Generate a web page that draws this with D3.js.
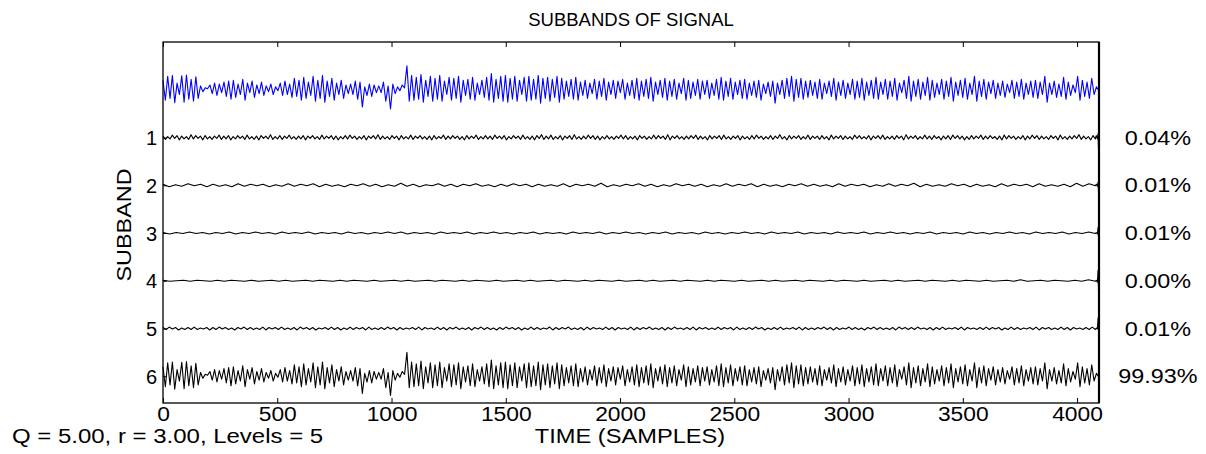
<!DOCTYPE html>
<html><head><meta charset="utf-8">
<script src="https://cdn.jsdelivr.net/npm/d3@7"></script>
<style>
html,body{margin:0;padding:0;background:#fff;}
svg text{font-family:Arial,"Liberation Sans",sans-serif;fill:#000;}
</style></head>
<body><svg id="c" width="1206" height="454"></svg>
<script>
// ---------- data (values in hundredths of one subband spacing) ----------
const title = "SUBBANDS OF SIGNAL";
const xLabel = "TIME (SAMPLES)";
const yLabel = "SUBBAND";
const paramText = "Q = 5.00, r = 3.00, Levels = 5";
const nSamples = 4096;
const xTicks = [0, 500, 1000, 1500, 2000, 2500, 3000, 3500, 4000];
const bandLabels = ["1", "2", "3", "4", "5", "6"];
const energyPct = ["0.04%", "0.01%", "0.01%", "0.00%", "0.01%", "99.93%"];

const signal = [
20,-22,28,-18,30,-27,14,-10,29,-26,31,-20,22,-24,27,-18,
8,-4,4,2,10,-8,14,-12,12,-6,16,-14,
18,-20,20,-16,12,-10,22,-22,14,-6,18,-16,
10,-8,16,-12,8,-4,12,-10,6,-2,14,-12,
18,-10,12,-16,24,-14,20,-22,26,-18,16,-12,
28,-24,20,-18,30,-26,18,-14,24,-22,
14,-10,20,-18,10,-8,12,-10,18,-20,16,-36,
6,-12,12,-14,10,-6,8,-6,16,-24,8,-40,12,-8,
6,-2,10,4,
50,-24,30,-22,26,-20,32,-26,20,-14,28,-24,24,-20,30,-24,18,-10,26,-22,24,-18,28,-26,20,-12,22,-20,26,-22,14,-10,
20,-16,26,-22,34,-26,22,-18,28,-24,30,-26,24,-20,28,-24,20,-10,26,-24,28,-22,22,-20,30,-28,24,-18,26,-24,22,-16,28,-26,
24,-20,18,-14,22,-20,26,-22,16,-12,20,-18,14,-8,22,-20,18,-14,24,-22,16,-10,20,-18,18,-6,22,-20,14,-12,20,-18,24,-22,
18,-14,22,-18,26,-24,16,-10,20,-16,24,-22,18,-14,22,-20,14,-8,24,-22,20,-18,16,-12,22,-20,18,-10,20,-18,14,-12,22,-20,
26,-22,18,-14,24,-20,16,-10,20,-18,22,-20,14,-12,18,-16,20,-22,12,-8,16,-14,18,-28,14,-10,20,-18,24,-14,28,-24,22,-16,
24,-20,18,-16,20,-12,16,-18,22,-20,14,-8,18,-14,24,-22,16,-12,20,-18,14,-10,22,-20,18,-16,24,-22,16,-12,20,-18,26,-20,
16,-10,22,-20,18,-14,24,-22,14,-6,20,-18,28,-24,18,-14,22,-20,16,-12,26,-22,20,-16,14,-10,22,-20,18,-14,26,-24,16,-12,
20,-16,24,-20,14,-10,28,-24,18,-14,22,-20,16,-8,20,-18,14,-12,18,-16,12,-6,20,-18,16,-14,22,-20,14,-10,18,-16,20,-18,
16,-10,28,-26,14,-10,18,-16,12,-14,26,-20,16,-12,10,-6,28,-22,20,-14,16,-18,24,-10,6,-2
];

const sub1 = [
3,-4,2,-3,5,-2,4,-5,3,-3,2,-4,6,-3,4,-2,3,-5,4,-3,
2,-4,3,-2,5,-4,3,-3,4,-5,2,-3,4,-2,3,-4,5,-3,2,-4,
3,-5,4,-2,3,-3,6,-4,2,-3,4,-4,3,-2,5,-3,2,-4,3,-3,
4,-5,3,-2,4,-3,2,-4,5,-3,3,-2,4,-4,3,-5,2,-3,4,-3,
5,-2,3,-4,2,-3,4,-5,3,-2,4,-3,6,-4,3,-3,2,-4,4,-2,
3,-5,4,-3,2,-3,5,-4,3,-2,4,-3,2,-4,3,-5,4,-3,2,-2,
5,-4,3,-3,4,-2,3,-4,2,-5,4,-3,3,-2,5,-4,2,-3,4,-3,
3,-4,5,-2,3,-3,4,-5,2,-3,4,-2,3,-4,5,-3,2,-4,3,-5,
4,-2,6,-4,3,-3,5,-4,2,-3,4,-5,3,-2,4,-4,6,-3,2,-4,
3,-3,5,-2,4,-4,3,-5,2,-3,4,-3,2,-4,3,-2,5,-3,4,-4,
2,-3,3,-5,4,-2,3,-4,2,-3,5,-3,4,-2,3,-4,6,-5,3,-2,
4,-3,2,-4,3,-3,4,-2,5,-4,3,-3,2,-5,4,-3,3,-2,4,-4,
5,-3,2,-4,3,-2,4,-5,3,-3,2,-4,4,-3,5,-2,3,-4,2,-3,
4,-4,3,-2,6,-3,2,-5,4,-3,3,-2,4,-4,2,-3,5,-4,3,-2,
3,-4,4,-3,2,-5,5,-3,3,-2,4,-4,3,-3,2,-4,5,-2,4,-3,
2,-3,4,-5,3,-2,4,-3,5,-4,2,-3,3,-4,4,-2,3,-5,6,-3,
3,-2,4,-4,2,-3,5,-3,3,-4,4,-2,2,-5,3,-3,4,-4,5,-2,
4,-3,3,-5,2,-4,4,-3,3,-2,5,-4,3,-3,4,-2,2,-4,3,-5,
5,-3,4,-2,3,-4,2,-3,4,-5,3,-3,5,-2,4,-4,3,-3,2,-4,
4,-2,3,-5,5,-3,2,-4,3,-3,4,-2,6,-4,3,-3,2,-5,4,-3
];
const sub2 = [2,-3,1,-2,3,-1,2,-3,2,-2,1,-3,3,-2,2,-1,2,-3,1,-2,3,-2,2,-1,3,-3,2,-2,1,-3,2,-1,3,-2,2,-3,1,-2,4,-2,2,-3,1,-1,3,-2,2,-3,2,-1,3,-2,1,-3,2,-2,3,-1,2,-3,2,-2,1,-2,3,-3,2,-1,2,-2,4,-3,1,-2,2,-1,3,-2,2,-3,1,-2,3,-1,2,-2,2,-3,1,-2,3,-2,2,-1,3,-3,2,-2,1,-3,2,-1,3,-2,2,-2,1,-3,3,-2,2,-1,2,-3,1,-2,3,-2,2,-1,4,-3,2,-2,1,-2,3,-1,2,-3,2,-2,1,-3,3,-2,2,-1,2,-3,3,-2,1,-2,2,-3,4,-2,3,-1];
const sub3 = [1,-2,1,-1,2,-1,1,-2,1,-1,2,-2,1,-1,2,-1,1,-2,2,-1,1,-1,2,-2,1,-1,1,-2,2,-1,1,-2,1,-1,2,-1,2,-2,1,-1,1,-2,2,-1,1,-1,2,-2,1,-1,2,-1,1,-2,1,-1,2,-2,1,-1,1,-2,2,-1,1,-1,2,-2,1,-1,2,-1,1,-2,1,-1,2,-2,1,-1,1,-2,2,-1,1,-2,1,-1,2,-1,1,-2,2,-1,1,-1,2,-2,1,-1,1,-2,2,-1,1,-1,2,-2,1,-1,2,-1,1,-2,1,-1,2,-2,1,-1,1,-2,2,-1,1,-2,1,-1,2,-1,1,-2,2,-1,1,-1,2,-2,1,-1,2,-1];
const sub4 = [1,-1,0,1,-1,1,0,-1,1,-1,1,0,-1,1,-1,0,1,-1,1,-1,0,1,-1,1,0,-1,1,-1,1,0,-1,1,-1,0,1,-1,1,-1,0,1,-1,1,0,-1,1,-1,1,0,-1,1,-1,0,1,-1,1,-1,0,1,-1,1,0,-1,1,-1,1,0,-1,1,-1,0,1,-1,1,-1,0,1,-1,1,0,-1,1,-1,1,0,-1,1,-1,0,1,-1,1,-1,0,1,-1,1,0,-1,1,-1,1,0,-1,1,-1,0,1,-1,1,-1,0,1,-1,1,0,-1,1,-1,1,0,-1,1,-1,0,1,-1,2,-1,0,1,-1,1,0,-1,1,-1,2,-1];
const sub5 = [
2,-2,3,-1,2,-3,1,-2,2,-2,3,-2,1,-1,2,-3,2,-2,3,-1,
2,-2,1,-3,2,-1,3,-2,2,-2,1,-2,3,-3,2,-1,2,-2,3,-2,
1,-2,2,-3,3,-1,2,-2,2,-3,1,-1,2,-2,3,-2,2,-3,1,-2,
3,-2,2,-1,2,-3,3,-2,1,-2,2,-2,3,-1,2,-3,2,-2,1,-1,
2,-2,3,-3,2,-1,1,-2,3,-2,2,-3,2,-1,3,-2,1,-2,2,-3,
2,-1,3,-2,2,-2,1,-3,2,-2,3,-1,2,-2,2,-3,1,-2,3,-2,
2,-2,1,-1,3,-3,2,-2,2,-1,3,-2,1,-2,2,-3,3,-2,2,-1,
1,-2,3,-2,2,-3,2,-1,1,-2,3,-3,2,-2,2,-1,3,-2,1,-2,
2,-3,2,-2,3,-1,1,-2,2,-2,3,-3,2,-1,2,-2,1,-2,3,-2,
2,-1,2,-3,3,-2,1,-2,2,-2,3,-1,2,-3,1,-2,2,-2,3,-2,
1,-1,2,-2,3,-3,2,-2,1,-2,2,-1,3,-2,2,-3,2,-2,1,-1,
3,-2,2,-2,1,-3,2,-1,3,-2,2,-2,1,-2,2,-3,3,-1,2,-2,
2,-2,3,-1,1,-2,2,-3,2,-2,3,-2,1,-1,2,-2,3,-3,2,-1,
1,-2,2,-2,3,-2,2,-1,2,-3,1,-2,3,-2,2,-2,1,-1,2,-2,
3,-3,2,-1,2,-2,1,-2,3,-2,2,-3,2,-1,1,-2,2,-2,3,-2
];
const sub6 = signal; // subband 6 holds 99.93% of the energy and matches the signal

// boundary transient at the last samples (sample index, then value per subband 1..5)
const edgeSamples = [4084, 4089, 4092, 4094, 4095];
const edge1 = [4, -3, 8, -27, -6];
const edge2 = [2, -2, 6, -16, 0];
const edge3 = [1, -2, 12, -10, 0];
const edge4 = [1, -3, 22, -22, 0];
const edge5 = [1, -1, 22, -4, 0];

const series = [
  {band: 0, values: signal, edge: null, color: "#0000ff"},
  {band: 1, values: sub1, edge: edge1, color: "#000"},
  {band: 2, values: sub2, edge: edge2, color: "#000"},
  {band: 3, values: sub3, edge: edge3, color: "#000"},
  {band: 4, values: sub4, edge: edge4, color: "#000"},
  {band: 5, values: sub5, edge: edge5, color: "#000"},
  {band: 6, values: sub6, edge: null, color: "#000"}
];

// ---------- layout ----------
const L = 163, R = 1099, T = 42, B = 403;
const svg = d3.select("#c");
const x = d3.scaleLinear().domain([0, nSamples]).range([L, R]);
const y = d3.scaleLinear().domain([-1, 6.56]).range([T, B]);
const HS = 1.17; // horizontal text stretch of the original figure

const line = d3.line()
  .x(d => x(d.t))
  .y(d => y(d.band - d.v / 100));
series.forEach(s => {
  const n = s.values.length;
  const tEnd = s.edge ? edgeSamples[0] - 4 : nSamples - 1;
  const pts = s.values.map((v, i) => ({t: i * tEnd / (n - 1), v, band: s.band}));
  if (s.edge) s.edge.forEach((v, i) => pts.push({t: edgeSamples[i], v, band: s.band}));
  svg.append("path").datum(pts)
    .attr("d", line)
    .attr("fill", "none")
    .attr("stroke", s.color)
    .attr("stroke-width", 1.1)
    .attr("stroke-linejoin", "round");
});

// box
svg.append("rect").attr("x", L).attr("y", T).attr("width", R - L).attr("height", B - T)
  .attr("fill", "none").attr("stroke", "#000").attr("stroke-width", 1.3);
svg.append("line").attr("x1", R).attr("x2", R).attr("y1", T).attr("y2", B)
  .attr("stroke", "#000").attr("stroke-width", 2.2);

// x axes (bottom with labels, top ticks only), ticks inward
const xb = svg.append("g").attr("transform", `translate(0,${B})`)
  .call(d3.axisBottom(x).tickValues(xTicks).tickSize(-5).tickPadding(4).tickFormat(d3.format("d")));
xb.select(".domain").remove();
xb.selectAll("text").attr("font-size", 19.5).attr("transform", `scale(${HS},1)`);
const xt = svg.append("g").attr("transform", `translate(0,${T})`)
  .call(d3.axisTop(x).tickValues(xTicks).tickSize(-5).tickFormat(""));
xt.select(".domain").remove();

// y axis (left), ticks inward
const yl = svg.append("g").attr("transform", `translate(${L},0)`)
  .call(d3.axisLeft(y).tickValues([1,2,3,4,5,6]).tickSize(-4).tickPadding(6)
    .tickFormat((d, i) => bandLabels[i]));
yl.select(".domain").remove();
yl.selectAll("text").attr("font-size", 20).attr("dy", "0.36em");
svg.selectAll(".tick line").attr("stroke", "#000");

// percentages on the right
svg.append("g").selectAll("text").data(energyPct).join("text")
  .attr("text-anchor", "middle")
  .attr("font-size", 20)
  .attr("dy", "0.36em")
  .attr("transform", (d, i) => `translate(1158,${y(i + 1)}) scale(${HS},1)`)
  .text(d => d);

// title and labels
svg.append("text").attr("x", 631).attr("y", 26).attr("text-anchor", "middle")
  .attr("font-size", 18.5).text(title);
svg.append("text").attr("text-anchor", "middle").attr("font-size", 20.2)
  .attr("transform", `translate(630,443) scale(${HS},1)`).text(xLabel);
svg.append("text").attr("text-anchor", "middle").attr("font-size", 20)
  .attr("transform", `translate(131,225) rotate(-90) scale(${HS},1)`).text(yLabel);
svg.append("text").attr("font-size", 20.5)
  .attr("transform", `translate(12,443) scale(${HS},1)`).text(paramText);
</script></body></html>
